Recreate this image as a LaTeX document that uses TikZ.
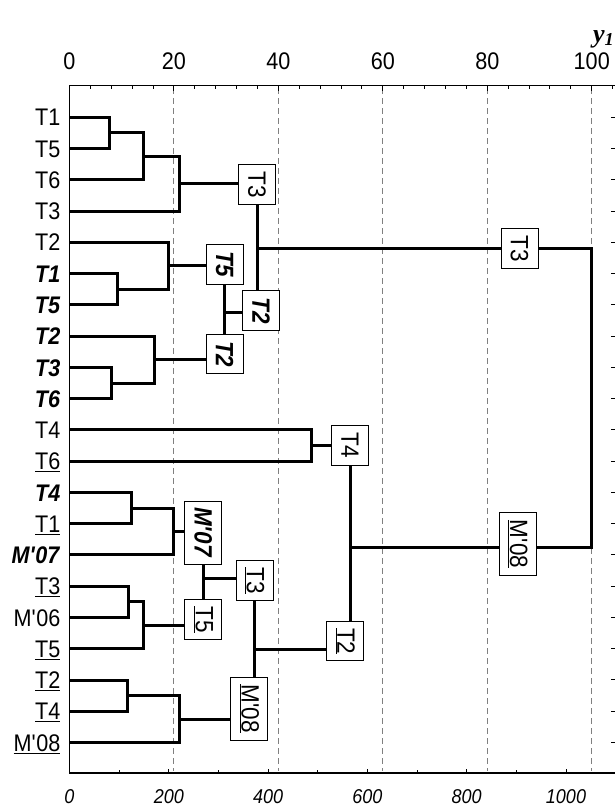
\documentclass[tikz,border=0pt]{standalone}
\usepackage{fontspec}
\setmainfont{Liberation Sans}[FakeStretch=0.9]
\newfontfamily\yfont{Liberation Serif}
\usepackage{xcolor,graphicx}
\definecolor{dgray}{RGB}{128,128,128}
\usetikzlibrary{positioning}
\newcommand{\bitext}[1]{\textbf{\textit{#1}}}
\newcommand{\undl}[1]{\underline{#1}}
\newcommand{\vtext}[1]{\rotatebox{-90}{#1}}
\newcommand{\apos}{\textquotesingle}
\tikzset{
  dlink/.style={line width=3pt, line join=miter},
  axisline/.style={line width=1.3pt},
  gridline/.style={draw=dgray, line width=1pt, dash pattern=on 6pt off 4pt},
  leaf/.style={anchor=east, inner sep=0pt, text height=17.2pt, text depth=0pt,
               font=\fontsize{24}{26}\selectfont},
  cbox/.style={draw, line width=1pt, fill=white, inner sep=0pt,
               minimum width=37pt, minimum height=39.5pt, font=\fontsize{25}{28}\selectfont},
  lbox/.style={cbox, minimum height=63pt},
  toplab/.style={inner sep=0pt, font=\fontsize{24}{26}\selectfont},
  botlab/.style={inner sep=0pt, font=\fontsize{20}{22}\selectfont\itshape},
}

\begin{document}
\begin{tikzpicture}[x=1pt, y=-1pt]
\useasboundingbox (0,0) rectangle (615,807);

% Grid (y1 scale)
\foreach \gx in {173.95,278.4,382.85,487.3,591.75}
  \draw[gridline] (\gx,88) -- (\gx,771);

% Axes
\draw[axisline] (615,85.7) -- (69.5,85.7) -- (69.5,773) -- (615,773);
\foreach \k in {0,...,26}
  \draw[line width=1pt] ({69.5+20.89*\k},85.7) -- ++(0,3);
\foreach \k in {0,5,...,25}
  \draw[line width=1pt] ({69.5+20.89*\k},85.7) -- ++(0,5.5);
\foreach \k in {0,...,10}
  \draw[line width=1pt] ({69.5+49.65*\k},773) -- ++(0,-3);
\foreach \k in {0,2,...,10}
  \draw[line width=1pt] ({69.5+49.65*\k},773) -- ++(0,-4.5);
\foreach \k in {0,...,20}
  \draw[line width=1pt] (611,{117.3+31.26*\k}) -- (615,{117.3+31.26*\k});

% Scale labels
\foreach \u/\n in {0/0,20/1,40/2,60/3,80/4,100/5}
  \node[toplab] (top\n) at ({69.5+104.45*\n},61.5) {\u};
\foreach \v/\n in {0/0,200/1,400/2,600/3,800/4,1000/5}
  \node[botlab] (bot\n) at ({69.5+99.3*\n},797) {\v};
\node[inner sep=0pt, anchor=base west, font=\fontsize{26}{28}\selectfont] (yone) at (593,42)
  {\yfont\bfseries\itshape y\textsubscript{1}};

% Leaves
\coordinate (a1) at (69.5,117.3);
\coordinate (a2) at (69.5,148.6);
\coordinate (a3) at (69.5,179.8);
\coordinate (a4) at (69.5,211.1);
\coordinate (a5) at (69.5,242.3);
\coordinate (a6) at (69.5,273.6);
\coordinate (a7) at (69.5,304.9);
\coordinate (a8) at (69.5,336.1);
\coordinate (a9) at (69.5,367.4);
\coordinate (a10) at (69.5,398.6);
\coordinate (a11) at (69.5,429.9);
\coordinate (a12) at (69.5,461.2);
\coordinate (a13) at (69.5,492.4);
\coordinate (a14) at (69.5,523.7);
\coordinate (a15) at (69.5,554.9);
\coordinate (a16) at (69.5,586.2);
\coordinate (a17) at (69.5,617.5);
\coordinate (a18) at (69.5,648.7);
\coordinate (a19) at (69.5,680.0);
\coordinate (a20) at (69.5,711.2);
\coordinate (a21) at (69.5,742.5);

\node[leaf, left=9pt of a1] (l1) {T1};
\node[leaf, left=9pt of a2] (l2) {T5};
\node[leaf, left=9pt of a3] (l3) {T6};
\node[leaf, left=9pt of a4] (l4) {T3};
\node[leaf, left=9pt of a5] (l5) {T2};
\node[leaf, left=9pt of a6] (l6) {\bitext{T1}};
\node[leaf, left=9pt of a7] (l7) {\bitext{T5}};
\node[leaf, left=9pt of a8] (l8) {\bitext{T2}};
\node[leaf, left=9pt of a9] (l9) {\bitext{T3}};
\node[leaf, left=9pt of a10] (l10) {\bitext{T6}};
\node[leaf, left=9pt of a11] (l11) {T4};
\node[leaf, left=9pt of a12] (l12) {\undl{T6}};
\node[leaf, left=9pt of a13] (l13) {\bitext{T4}};
\node[leaf, left=9pt of a14] (l14) {\undl{T1}};
\node[leaf, left=9pt of a15] (l15) {\bitext{M\apos07}};
\node[leaf, left=9pt of a16] (l16) {\undl{T3}};
\node[leaf, left=9pt of a17] (l17) {M\apos06};
\node[leaf, left=9pt of a18] (l18) {\undl{T5}};
\node[leaf, left=9pt of a19] (l19) {\undl{T2}};
\node[leaf, left=9pt of a20] (l20) {\undl{T4}};
\node[leaf, left=9pt of a21] (l21) {\undl{M\apos08}};

% Merge points
\coordinate (mA1) at (109.3,132.9);
\coordinate (mA2) at (143.3,156.4);
\coordinate (mA3) at (179.0,183.7);
\coordinate (mB1) at (117.3,289.2);
\coordinate (mB2) at (168.3,265.8);
\coordinate (mC1) at (111.0,383.0);
\coordinate (mC2) at (154.0,359.6);
\coordinate (mD) at (311.7,445.5);
\coordinate (mE1) at (131.7,508.1);
\coordinate (mE2) at (173.0,531.5);
\coordinate (mF1) at (128.3,601.8);
\coordinate (mF2) at (143.7,625.3);
\coordinate (mG1) at (127.0,695.6);
\coordinate (mG2) at (179.3,719.1);

% Clusters
\draw[dlink] (a1) -| (mA1) |- (a2);
\draw[dlink] (mA1) -| (mA2) |- (a3);
\draw[dlink] (mA2) -| (mA3) |- (a4);
\draw[dlink] (a6) -| (mB1) |- (a7);
\draw[dlink] (a5) -| (mB2) |- (mB1);
\draw[dlink] (a9) -| (mC1) |- (a10);
\draw[dlink] (a8) -| (mC2) |- (mC1);
\draw[dlink] (a11) -| (mD) |- (a12);
\draw[dlink] (a13) -| (mE1) |- (a14);
\draw[dlink] (mE1) -| (mE2) |- (a15);
\draw[dlink] (a16) -| (mF1) |- (a17);
\draw[dlink] (mF1) -| (mF2) |- (a18);
\draw[dlink] (a19) -| (mG1) |- (a20);
\draw[dlink] (mG1) -| (mG2) |- (a21);

% Labelled boxes
\node[cbox] (bA) at (257,184.5) {\vtext{T3}};
\node[cbox] (bB) at (224.5,264.5) {\vtext{\bitext{T5}}};
\node[cbox] (bC) at (224.5,354.2) {\vtext{\bitext{T2}}};
\node[cbox] (bBC) at (261,310.5) {\vtext{\bitext{T2}}};
\node[cbox] (bTop) at (519.5,248.5) {\vtext{T3}};
\node[cbox] (bD) at (350,445.3) {\vtext{T4}};
\node[lbox] (bBot) at (517.8,544.2) {\vtext{\undl{M\apos08}}};
\node[lbox] (bE) at (203.3,532.5) {\vtext{\bitext{M\apos07}}};
\node[cbox] (bF) at (203.3,619.5) {\vtext{\undl{T5}}};
\node[cbox] (bEF) at (254.5,580.5) {\vtext{\undl{T3}}};
\node[lbox] (bG) at (249.2,708.7) {\vtext{\undl{M\apos08}}};
\node[cbox] (bEFG) at (345,641.2) {\vtext{\undl{T2}}};

% Junctions
\coordinate (jA) at (257,248.3);
\coordinate (jB) at (224.5,312.7);
\coordinate (jR) at (591.75,400);
\coordinate (jD) at (350,547.3);
\coordinate (jE) at (203.3,578.3);
\coordinate (jF) at (254.5,649);

% Cluster to box
\draw[dlink] (mA3) -- (mA3 -| bA.west);
\draw[dlink] (mB2) -- (mB2 -| bB.west);
\draw[dlink] (mC2) -- (mC2 -| bC.west);
\draw[dlink] (mD) -- (mD -| bD.west);
\draw[dlink] (mE2) -- (mE2 -| bE.west);
\draw[dlink] (mF2) -- (mF2 -| bF.west);
\draw[dlink] (mG2) -- (mG2 -| bG.west);

% Box to box
\draw[dlink] (bB) -- (bC);
\draw[dlink] (jB) -- (jB -| bBC.west);
\draw[dlink] (bA.south) -- (bA.south |- bBC.north);
\draw[dlink] (jA) -- (jA -| bTop.west);
\draw[dlink] (jA -| bTop.east) -| (jR) |- (jD -| bBot.east);
\draw[dlink] (bD.south) -- (bD.south |- bEFG.north);
\draw[dlink] (jD) -- (jD -| bBot.west);
\draw[dlink] (bE) -- (bF);
\draw[dlink] (jE) -- (jE -| bEF.west);
\draw[dlink] (bEF.south) -- (bEF.south |- bG.north);
\draw[dlink] (jF) -- (jF -| bEFG.west);

\end{tikzpicture}
\end{document}
